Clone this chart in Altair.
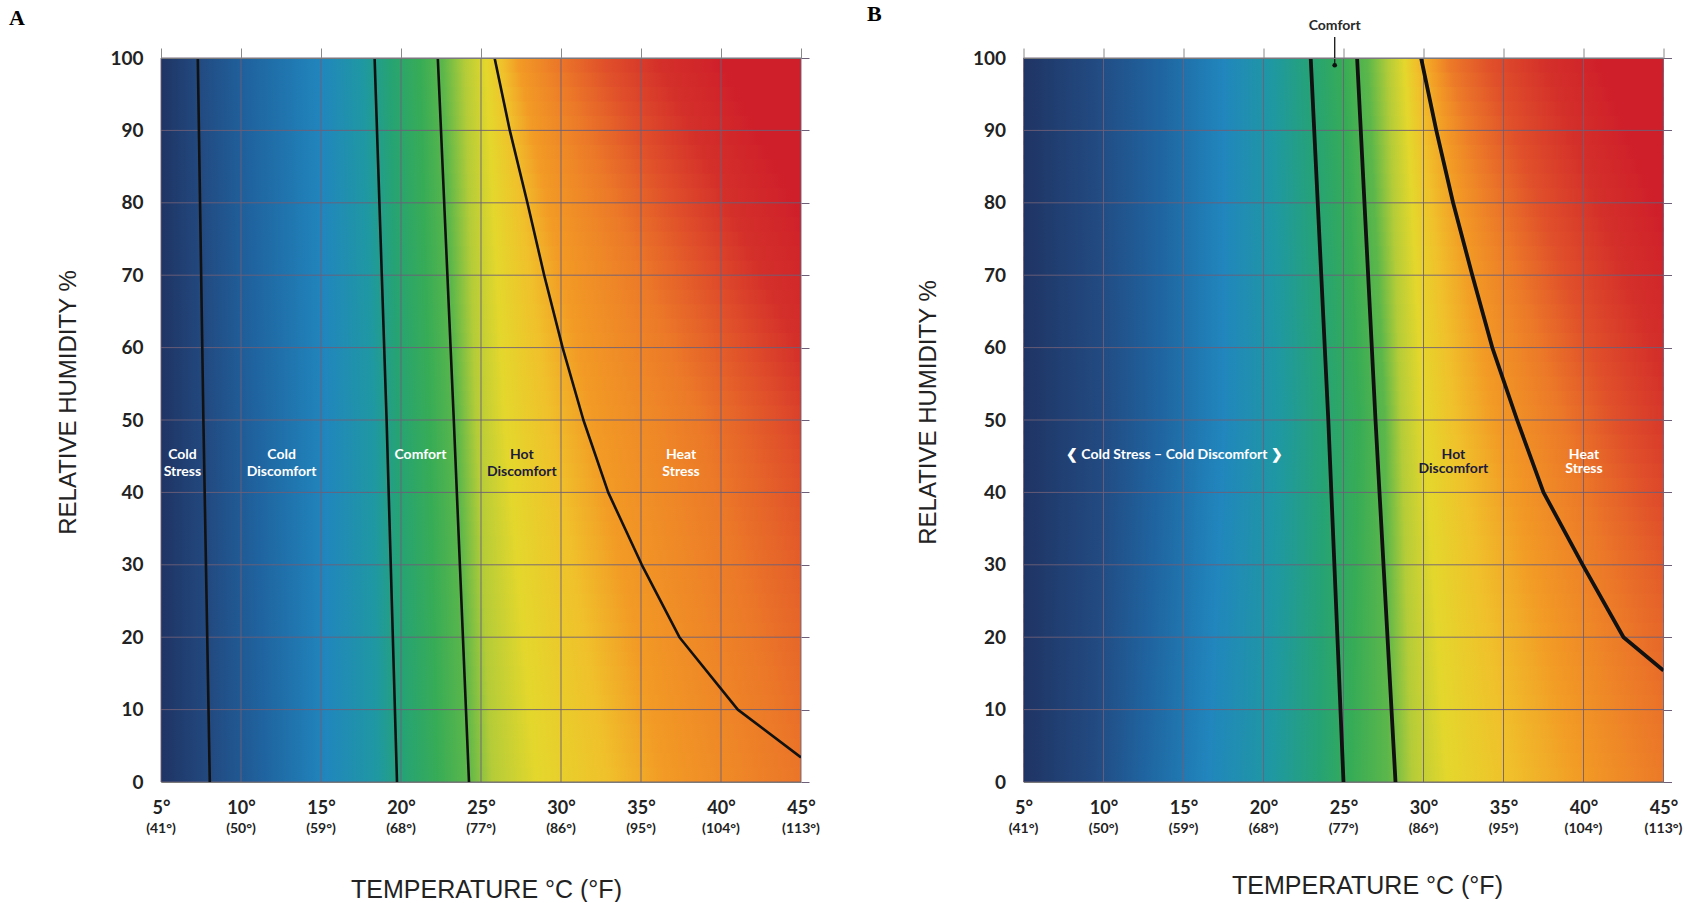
import altair as alt

# ---------------------------------------------------------------------------
# Plot geometry (plot area of each panel, in pixels)
# ---------------------------------------------------------------------------
W, H = 640, 724

# ---------------------------------------------------------------------------
# Axes
# ---------------------------------------------------------------------------
TEMP_TICKS = [5, 10, 15, 20, 25, 30, 35, 40, 45]
FAHRENHEIT = ["(41°)", "(50°)", "(59°)", "(68°)", "(77°)", "(86°)", "(95°)", "(104°)", "(113°)"]
RH_TICKS = [0, 10, 20, 30, 40, 50, 60, 70, 80, 90, 100]

# ---------------------------------------------------------------------------
# Panel A zone boundaries: temperature (°C) against relative humidity (%)
# ---------------------------------------------------------------------------
A_COLD_STRESS_T = [7.3, 7.65, 8.05]
A_COLD_STRESS_RH = [100, 50, 0]
A_COMFORT_LO_T = [18.35, 19.1, 19.75]
A_COMFORT_LO_RH = [100, 50, 0]
A_COMFORT_HI_T = [22.3, 23.3, 24.25]
A_COMFORT_HI_RH = [100, 50, 0]
A_HEAT_T = [25.85, 26.8, 27.9, 28.95, 30.1, 31.4, 32.95, 35.05, 37.4, 41.05, 45.0]
A_HEAT_RH = [100, 90, 80, 70, 60, 50, 40, 30, 20, 10, 3.4]

# Panel B zone boundaries
B_COMFORT_LO_T = [22.95, 24.05, 25.0]
B_COMFORT_LO_RH = [100, 50, 0]
B_COMFORT_HI_T = [25.85, 27.0, 28.25]
B_COMFORT_HI_RH = [100, 50, 0]
B_HEAT_T = [29.85, 30.8, 31.85, 33.05, 34.3, 35.85, 37.5, 39.95, 42.5, 45.0]
B_HEAT_RH = [100, 90, 80, 70, 60, 50, 40, 30, 20, 15.4]

# Zone names
A_ZONES = ["Cold\nStress", "Cold\nDiscomfort", "Comfort", "Hot\nDiscomfort", "Heat\nStress"]
A_ZONE_T = [6.34, 12.54, 21.22, 27.55, 37.5]
A_ZONE_RH = [45.2, 45.2, 45.2, 45.2, 45.2]
A_ZONE_COLOR = ["#ffffff", "#ffffff", "#ffffff", "#1c1b3d", "#ffffff"]

B_ZONES = ["\u276e Cold Stress \u2013 Cold Discomfort \u276f", "Hot\nDiscomfort", "Heat\nStress"]
B_ZONE_T = [14.43, 31.87, 40.03]
B_ZONE_RH = [45.2, 45.2, 45.2]
B_ZONE_COLOR = ["#ffffff", "#1c1b3d", "#ffffff"]

B_CALLOUT = ["Comfort"]
B_CALLOUT_T = [24.45]
B_CALLOUT_RH = [99.0]

# ---------------------------------------------------------------------------
# Background colour ramp: one palette, stop temperatures given at RH 0/50/100
# ---------------------------------------------------------------------------
RAMP = ["#1f3464", "#224b82", "#1f64a0", "#2186bd", "#1f98a2", "#26a374",
        "#37ac56", "#5cb74a", "#b4cc38", "#e4d72c", "#f0c02b", "#f29a25",
        "#ec7a28", "#e0502a", "#d4302a", "#cf1f2a"]
RAMP_RH = [0, 50, 100]
A_RAMP_T = [
    [5, 8.3, 11.5, 15.3, 18.5, 20.2, 22.3, 24.2, 25.7, 28.5, 33, 36.5, 44, 52, 56, 60],
    [5, 8.0, 11.0, 15.3, 18.3, 19.8, 21.8, 23.5, 24.7, 26.5, 29.3, 32.0, 38.5, 43.5, 47, 52],
    [5, 7.5, 10.5, 15.0, 17.6, 19.3, 21.2, 22.6, 24.0, 25.3, 26.3, 27.3, 29.5, 32.5, 36, 40],
]
B_RAMP_T = [
    [5, 9.5, 12.5, 16.5, 20.5, 23.5, 25.5, 27.8, 29.3, 31.5, 35.5, 40, 45, 52, 56, 60],
    [5, 10, 13.5, 17.5, 21, 23.8, 26, 27.6, 28.6, 30, 32, 34.5, 38.5, 42, 46, 50],
    [5, 9.5, 13.5, 17.5, 20.5, 23, 25, 26.5, 27.8, 28.8, 29.5, 30.6, 31.5, 34, 37.5, 41],
]
RAMP_T0, RAMP_T1 = 5, 60      # horizontal span of each gradient strip (clipped at 45)
STRIP = 2                      # strip height in % RH

GRID = "#6e5f78"
INK = "#222222"
LABEL_FONT = "Lato"
TITLE_FONT = "Liberation Sans"

xs = alt.Scale(domain=[5, 45], nice=False, zero=False)
ys = alt.Scale(domain=[0, 100], nice=False, zero=False)


def strips(ramp_t):
    """Horizontal strips, each filled with a left-to-right linear gradient."""
    out = []
    for lo in range(0, 100, STRIP):
        mid = lo + STRIP / 2
        k = 0 if mid <= RAMP_RH[1] else 1
        f = (mid - RAMP_RH[k]) / (RAMP_RH[k + 1] - RAMP_RH[k])
        temps = [a + (b - a) * f for a, b in zip(ramp_t[k], ramp_t[k + 1])]
        stops = [{"offset": min(1.0, max(0.0, (t - RAMP_T0) / (RAMP_T1 - RAMP_T0))), "color": c}
                 for t, c in zip(temps, RAMP)]
        out.append({"t0": RAMP_T0, "t1": RAMP_T1, "h0": lo, "h1": lo + STRIP + 0.6,
                    "grad": {"gradient": "linear", "x1": 0, "y1": 0, "x2": 1, "y2": 0,
                             "stops": stops}})
    return out


def curve_records(curves):
    rec = []
    for name, ts, hs in curves:
        for i, (t, h) in enumerate(zip(ts, hs)):
            rec.append({"curve": name, "idx": i, "t": t, "h": h})
    return rec


def panel(letter, letter_x, letter_y, ramp_t, curves, line_w,
          zones, zone_t, zone_rh, zone_color, zone_lh,
          xtitle_x, xtitle_y, ytitle_x, ytitle_y, extra=()):
    bottom_axis = alt.Axis(
        orient="bottom", values=TEMP_TICKS, labelExpr="datum.value + '°'",
        labelFont=LABEL_FONT, labelFontSize=18, labelFontWeight="bold", labelColor=INK,
        labelPadding=17, ticks=False, tickSize=0, domain=True, domainColor="#7a7a7a",
        grid=False, zindex=1,
        title="TEMPERATURE °C (°F)", titleFont=TITLE_FONT, titleFontSize=25,
        titleFontWeight="normal", titleColor=INK, titleX=xtitle_x, titleY=xtitle_y,
        titleBaseline="alphabetic", titleAlign="center", labelFlush=False)
    left_axis = alt.Axis(
        orient="left", values=RH_TICKS, labelFont=LABEL_FONT, labelFontSize=19,
        labelFontWeight="bold", labelColor=INK, labelPadding=18, ticks=False, tickSize=0,
        domain=False, grid=False, labelFlush=False,
        title="RELATIVE HUMIDITY %", titleFont=TITLE_FONT, titleFontSize=24,
        titleFontWeight="normal", titleColor=INK, titleX=ytitle_x, titleY=ytitle_y,
        titleAngle=-90, titleBaseline="alphabetic", titleAlign="center")
    top_axis = alt.Axis(
        orient="top", values=TEMP_TICKS, labels=False, ticks=True, tickSize=10,
        tickColor="#8a8a8a", domain=True, domainColor="#7a7a7a", grid=False, title=None,
        zindex=1)
    right_axis = alt.Axis(
        orient="right", values=RH_TICKS, labels=False, ticks=True, tickSize=8,
        tickColor=GRID, domain=False, grid=False, title=None)

    bg = alt.Chart(alt.Data(values=strips(ramp_t))).mark_rect(clip=True, strokeWidth=0).encode(
        x=alt.X("t0:Q", scale=xs, axis=bottom_axis),
        x2="t1:Q",
        y=alt.Y("h0:Q", scale=ys, axis=left_axis),
        y2="h1:Q",
        fill=alt.Fill("grad:N", scale=None),
    )
    vgrid = alt.Chart(alt.Data(values=[{"t": t} for t in TEMP_TICKS])).mark_rule(
        color=GRID, strokeWidth=1, opacity=0.9).encode(
        x=alt.X("t:Q", scale=xs, axis=top_axis))
    hgrid = alt.Chart(alt.Data(values=[{"h": h} for h in RH_TICKS])).mark_rule(
        color=GRID, strokeWidth=1, opacity=0.9).encode(
        y=alt.Y("h:Q", scale=ys, axis=right_axis))
    lines = alt.Chart(alt.Data(values=curve_records(curves))).mark_line(
        clip=True, color="#111111", strokeWidth=line_w, strokeJoin="round").encode(
        x=alt.X("t:Q", scale=xs, axis=None),
        y=alt.Y("h:Q", scale=ys, axis=None),
        detail="curve:N",
        order="idx:Q",
    )
    fahr = alt.Chart(alt.Data(values=[{"t": t, "f": f} for t, f in zip(TEMP_TICKS, FAHRENHEIT)])
                     ).mark_text(font=LABEL_FONT, fontSize=14, fontWeight="bold", color=INK,
                                 baseline="middle", align="center").encode(
        x=alt.X("t:Q", scale=xs, axis=None),
        y=alt.value(H + 47),
        text="f:N",
    )
    zone_txt = alt.Chart(alt.Data(values=[
        {"label": l, "t": t, "h": h, "c": c}
        for l, t, h, c in zip(zones, zone_t, zone_rh, zone_color)])).mark_text(
        font=LABEL_FONT, fontSize=14, fontWeight="bold", lineBreak="\n",
        lineHeight=zone_lh, align="center", baseline="middle").encode(
        x=alt.X("t:Q", scale=xs, axis=None),
        y=alt.Y("h:Q", scale=ys, axis=None),
        text="label:N",
        color=alt.Color("c:N", scale=None),
    )
    tag = alt.Chart(alt.Data(values=[{"letter": letter}])).mark_text(
        font="Liberation Serif", fontSize=22, fontWeight="bold", color="#000000",
        align="left", baseline="alphabetic").encode(
        x=alt.value(letter_x), y=alt.value(letter_y), text="letter:N")

    return alt.layer(bg, vgrid, hgrid, lines, fahr, zone_txt, tag, *extra).resolve_axis(
        x="independent", y="independent").properties(width=W, height=H)


# Callout pointing at the narrow comfort band of panel B
callout_data = alt.Data(values=[{"label": l, "t": t, "h": h}
                                for l, t, h in zip(B_CALLOUT, B_CALLOUT_T, B_CALLOUT_RH)])
callout_rule = alt.Chart(callout_data).mark_rule(color="#222222", strokeWidth=1.4).encode(
    x=alt.X("t:Q", scale=xs, axis=None),
    y=alt.Y("h:Q", scale=ys, axis=None),
    y2=alt.value(-21),
)
callout_dot = alt.Chart(callout_data).mark_circle(color="#111111", opacity=1, size=22).encode(
    x=alt.X("t:Q", scale=xs, axis=None),
    y=alt.Y("h:Q", scale=ys, axis=None),
)
callout_txt = alt.Chart(callout_data).mark_text(
    font=LABEL_FONT, fontSize=14, fontWeight="bold", color="#2a2a2a",
    align="center", baseline="alphabetic").encode(
    x=alt.X("t:Q", scale=xs, axis=None),
    y=alt.value(-28),
    text="label:N",
)

panel_a = panel(
    "A", -152, -33.5, A_RAMP_T,
    [("cold_stress", A_COLD_STRESS_T, A_COLD_STRESS_RH),
     ("comfort_lo", A_COMFORT_LO_T, A_COMFORT_LO_RH),
     ("comfort_hi", A_COMFORT_HI_T, A_COMFORT_HI_RH),
     ("heat", A_HEAT_T, A_HEAT_RH)],
    2.6, A_ZONES, A_ZONE_T, A_ZONE_RH, A_ZONE_COLOR, 17,
    325, 115, -86, 344,
)
panel_b = panel(
    "B", -156.5, -37.5, B_RAMP_T,
    [("comfort_lo", B_COMFORT_LO_T, B_COMFORT_LO_RH),
     ("comfort_hi", B_COMFORT_HI_T, B_COMFORT_HI_RH),
     ("heat", B_HEAT_T, B_HEAT_RH)],
    3.8, B_ZONES, B_ZONE_T, B_ZONE_RH, B_ZONE_COLOR, 14,
    343.5, 111.5, -88.5, 354,
    extra=(callout_rule, callout_dot, callout_txt),
)

chart = alt.hconcat(panel_a, panel_b, spacing=222.5, bounds="flush").properties(
    padding={"left": 9, "top": 2, "right": 0, "bottom": 0}
).configure(background="#ffffff").configure_view(stroke=None)

chart.save("out.html", embed_options={"renderer": "svg", "actions": False})
